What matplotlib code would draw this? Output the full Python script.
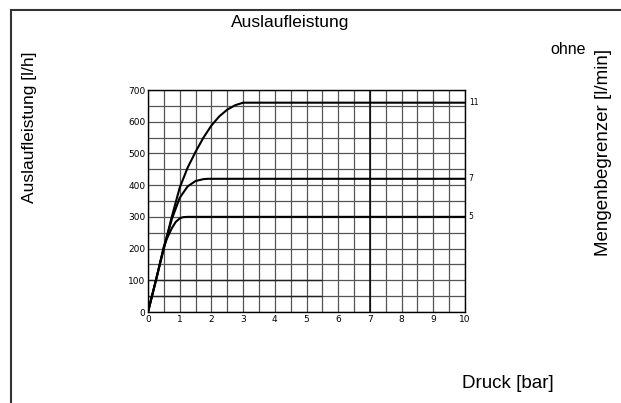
import numpy as np
import matplotlib.pyplot as plt

# Auslaufleistung curves (Druck [bar] -> l/h)
x_11 = [0, 0.25, 0.5, 0.75, 1.0, 1.25, 1.5, 1.75, 2.0, 2.25, 2.5, 2.75, 3.0, 10]
y_11 = [0, 100, 200, 300, 392, 455, 505, 550, 588, 617, 638, 652, 660, 660]
x_7 = [0, 0.25, 0.5, 0.75, 1.0, 1.25, 1.5, 1.75, 1.9, 10]
y_7 = [0, 100, 205, 292, 360, 396, 413, 419, 420, 420]
x_5 = [0, 0.25, 0.5, 0.6, 0.75, 0.875, 1.0, 1.1, 1.25, 10]
y_5 = [0, 100, 205, 232, 264, 284, 295, 299, 300, 300]
curve_labels = ["11", "7", "5"]

x_ticks = list(range(0, 11))
y_ticks = list(range(0, 701, 100))

plt.rcParams['font.family'] = ['Liberation Sans', 'DejaVu Sans']

fig = plt.figure(figsize=(6.21, 4.03), dpi=100)
ax = fig.add_axes([148 / 621, 91 / 403, 317 / 621, 222 / 403])

# grid every 0.5 bar / 50 l/h
for gx in np.arange(0, 10.01, 0.5):
    ax.axvline(gx, color='#555555', lw=0.9, zorder=1)
for gy in np.arange(0, 700.1, 50):
    ax.axhline(gy, color='#555555', lw=0.9, zorder=1)
ax.axvline(7, color='black', lw=1.1, zorder=1)
ax.hlines([50, 100], 0, 5.5, color='#222222', lw=1.0, zorder=1)

for xs, ys, lab in zip([x_11, x_7, x_5], [y_11, y_7, y_5], curve_labels):
    ax.plot(xs, ys, color='black', lw=1.5, zorder=3)
    ax.text(10.12, ys[-1], lab, fontsize=5.5, va='center', ha='left',
            family='DejaVu Sans')

ax.set_xlim(0, 10)
ax.set_ylim(0, 700)
ax.set_xticks(x_ticks)
ax.set_yticks(y_ticks)
ax.tick_params(length=0, labelsize=6.5, pad=2)
for lab in ax.get_xticklabels() + ax.get_yticklabels():
    lab.set_family('DejaVu Sans')
for s in ax.spines.values():
    s.set_color('black')
    s.set_linewidth(1.0)

# frame lines (top and left only)
fig.add_artist(plt.Line2D([11 / 621, 1], [1 - 10 / 403, 1 - 10 / 403], color='#333333', lw=1.5))
fig.add_artist(plt.Line2D([11 / 621, 11 / 621], [0, 1 - 10 / 403], color='#333333', lw=1.5))

fs = 12.5
fig.text(290 / 621, 1 - 22 / 403, "Auslaufleistung", fontsize=fs, ha='center', va='center')
fig.text(30 / 621, 1 - 127 / 403, "Auslaufleistung [l/h]", fontsize=fs, rotation=90,
         ha='center', va='center')
fig.text(603 / 621, 1 - 152 / 403, "Mengenbegrenzer [l/min]", fontsize=13.5, rotation=90,
         ha='center', va='center')
fig.text(568 / 621, 1 - 50 / 403, "ohne", fontsize=11.5, ha='center', va='center')
fig.text(508 / 621, 1 - 384 / 403, "Druck [bar]", fontsize=13.5, ha='center', va='center')

fig.savefig("out.png", dpi=100)
